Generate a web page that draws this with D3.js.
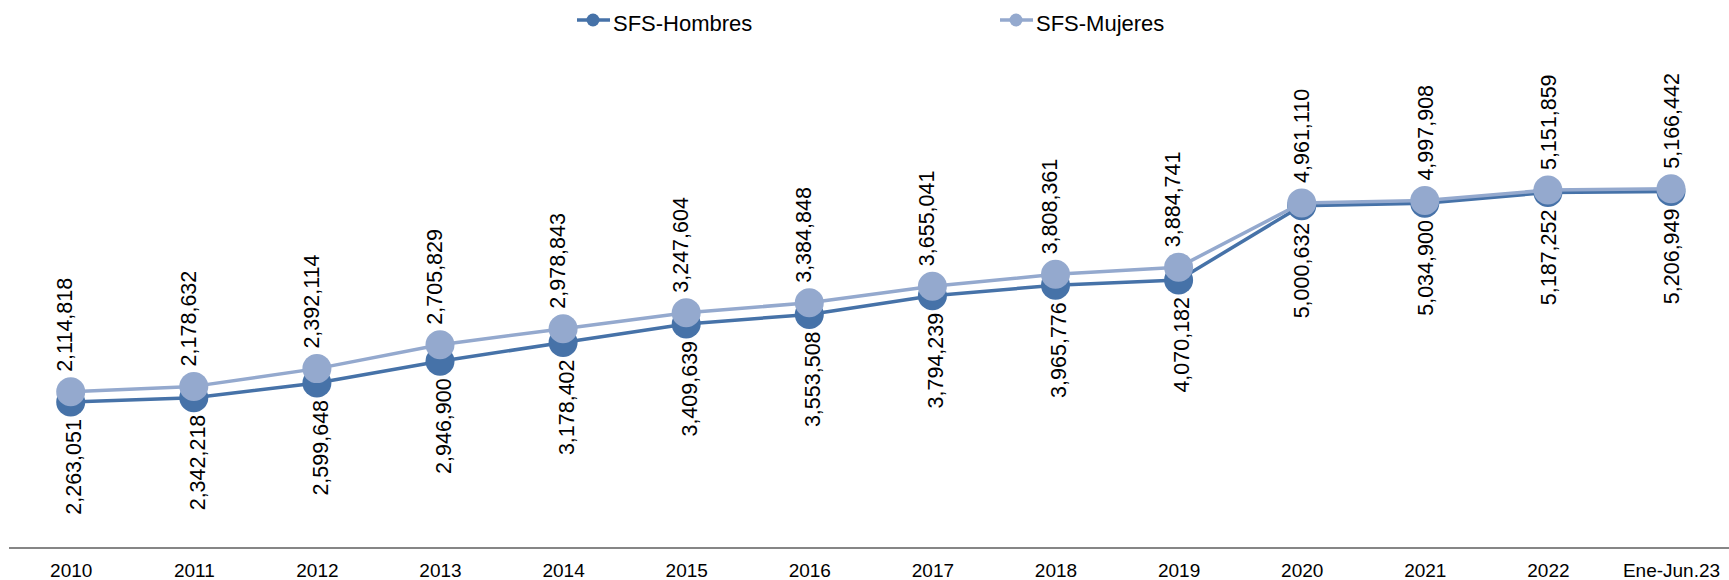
<!DOCTYPE html>
<html>
<head>
<meta charset="utf-8">
<script src="https://cdn.jsdelivr.net/npm/d3@7"></script>
<style>
  body { margin: 0; background: #fff; }
  svg { display: block; font-family: "Liberation Sans", Arial, sans-serif; }
</style>
</head>
<body>
<div id="chart"></div>
<script>
	"use strict";

//data ************************************************************
	var categories = ['2010','2011','2012','2013','2014','2015','2016','2017','2018','2019','2020','2021','2022','Ene-Jun.23'];

	var sfsHombres = [2114818, 2178632, 2392114, 2705829, 2978843, 3247604, 3384848, 3655041, 3808361, 3884741, 4961110, 4997908, 5151859, 5166442];
	var sfsMujeres = [2263051, 2342218, 2599648, 2946900, 3178402, 3409639, 3553508, 3794239, 3965776, 4070182, 5000632, 5034900, 5187252, 5206949];

	var seriesNames = ['SFS-Hombres', 'SFS-Mujeres'];

//variables *************************************************************
	var width = 1729;
	var height = 580;
	var darkBlue = '#4672a8';
	var lightBlue = '#94a9ce';
	var markerR = 14.5;
	var fmt = d3.format(',');

	var svg = d3.select('#chart')
		.append('svg')
		.attr('width', width)
		.attr('height', height);

	var x = d3.scalePoint()
		.domain(categories)
		.range([70.7, 1671]);

	var y = d3.scaleLinear()
		.domain([0, 6000000])
		.range([548, 134]);

//axis ************************************************************
	svg.append('line')
		.attr('x1', 9)
		.attr('x2', width)
		.attr('y1', y(0))
		.attr('y2', y(0))
		.attr('stroke', '#868686')
		.attr('stroke-width', 2);

	var xAxis = svg.append('g')
		.attr('transform', 'translate(0,' + y(0) + ')')
		.call(d3.axisBottom(x).tickSize(0).tickPadding(15.5));

	xAxis.select('.domain').remove();
	xAxis.selectAll('text')
		.attr('fill', '#000')
		.style('font-size', '19px')
		.style('font-family', '"Liberation Sans", Arial, sans-serif');

//lines + markers ************************************************************
	var line = d3.line()
		.x(function(d, i) { return x(categories[i]); })
		.y(function(d) { return y(d); });

	function drawSeries(values, color, lw) {
		svg.append('path')
			.datum(values)
			.attr('d', line)
			.attr('fill', 'none')
			.attr('stroke', color)
			.attr('stroke-width', lw)
			.attr('stroke-linejoin', 'round');

		svg.append('g')
			.selectAll('circle')
			.data(values)
			.enter()
			.append('circle')
			.attr('cx', function(d, i) { return x(categories[i]); })
			.attr('cy', function(d) { return y(d); })
			.attr('r', markerR)
			.attr('fill', color);
	}

	drawSeries(sfsHombres, darkBlue, 3.5);
	drawSeries(sfsMujeres, lightBlue, 3.5);

//data labels ************************************************************
	// top labels: hombres values, above the upper marker
	svg.append('g')
		.selectAll('text')
		.data(sfsHombres)
		.enter()
		.append('text')
		.attr('transform', function(d, i) {
			var px = x(categories[i]);
			var top = Math.min(y(d), y(sfsMujeres[i]));
			var shift = i < 10 ? -6 : 0;
			return 'translate(' + (px + shift + 7.7) + ',' + (top - 20) + ') rotate(-90)';
		})
		.attr('text-anchor', 'start')
		.style('font-size', '21.5px')
		.attr('fill', '#000')
		.text(function(d) { return fmt(d); });

	// bottom labels: mujeres values, below the lower marker
	svg.append('g')
		.selectAll('text')
		.data(sfsMujeres)
		.enter()
		.append('text')
		.attr('transform', function(d, i) {
			var px = x(categories[i]);
			var bottom = Math.max(y(d), y(sfsHombres[i]));
			var shift = i < 10 ? 3 : 0;
			return 'translate(' + (px + shift + 7.7) + ',' + (bottom + 17) + ') rotate(-90)';
		})
		.attr('text-anchor', 'end')
		.style('font-size', '21.5px')
		.attr('fill', '#000')
		.text(function(d) { return fmt(d); });

//legend ************************************************************
	var legendX = [577, 1000];
	var legendColors = [darkBlue, lightBlue];

	var legend = svg.selectAll('.legend')
		.data(seriesNames)
		.enter()
		.append('g')
		.attr('class', 'legend')
		.attr('transform', function(d, i) { return 'translate(' + legendX[i] + ',20)'; });

	legend.append('line')
		.attr('x1', 0)
		.attr('x2', 33)
		.attr('stroke', function(d, i) { return legendColors[i]; })
		.attr('stroke-width', 3.5);

	legend.append('circle')
		.attr('cx', 16)
		.attr('r', 6.5)
		.attr('fill', function(d, i) { return legendColors[i]; });

	legend.append('text')
		.attr('x', 36)
		.attr('y', 11)
		.style('font-size', '22px')
		.attr('fill', '#000')
		.text(function(d) { return d; });
</script>
</body>
</html>
